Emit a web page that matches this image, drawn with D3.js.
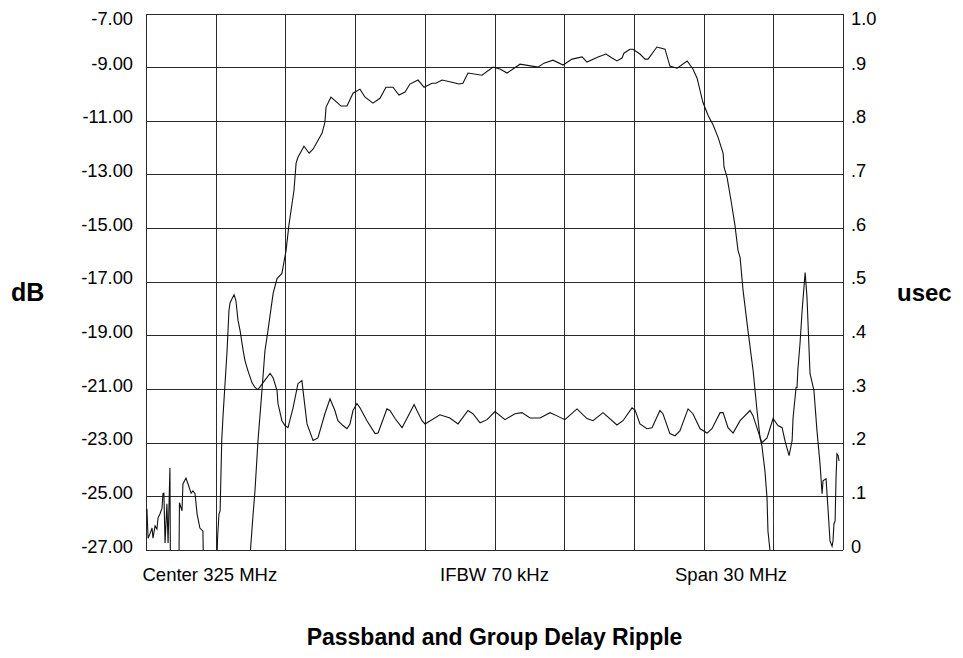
<!DOCTYPE html>
<html>
<head>
<meta charset="utf-8">
<script src="https://cdn.jsdelivr.net/npm/d3@7"></script>
<style>
  body { margin: 0; background: #fff; }
  svg text { font-family: "Liberation Sans", Arial, sans-serif; fill: #000; }
</style>
</head>
<body>
<script>
// Sweep settings (MHz)
var startFreq = 310;
var stopFreq = 340;
var freqDivisions = d3.range(310, 340.001, 3);

// Left axis (dB) and right axis (usec)
var dbTicks = [-27, -25, -23, -21, -19, -17, -15, -13, -11, -9, -7];
var usecTicks = [0, 0.1, 0.2, 0.3, 0.4, 0.5, 0.6, 0.7, 0.8, 0.9, 1.0];
var usecTickLabels = ["0", ".1", ".2", ".3", ".4", ".5", ".6", ".7", ".8", ".9", "1.0"];

// Footer notes and title
var footerLabels = ["Center 325 MHz", "IFBW 70 kHz", "Span 30 MHz"];
var chartTitle = "Passband and Group Delay Ripple";

// Passband magnitude trace: [MHz, dB]
var passband = [
  [314.48,-27.5],[314.50,-26.96],[314.61,-25.66],[314.69,-24.80],[314.82,-22.93],[314.99,-21.06],
  [315.12,-19.57],[315.25,-18.82],[315.47,-17.44],[315.64,-16.88],[315.85,-16.69],[316.03,-15.83],
  [316.15,-14.90],[316.37,-13.59],[316.46,-12.58],[316.54,-12.36],[316.80,-11.95],[317.02,-12.21],
  [317.19,-12.06],[317.58,-11.46],[317.70,-11.05],[317.75,-10.49],[317.96,-10.12],[318.22,-10.31],
  [318.39,-10.45],[318.65,-10.45],[318.91,-9.97],[319.21,-9.82],[319.43,-10.12],[319.77,-10.34],
  [320.07,-10.16],[320.33,-9.75],[320.63,-9.75],[320.89,-10.04],[321.15,-9.93],[321.36,-9.63],
  [321.71,-9.48],[321.97,-9.75],[322.31,-9.60],[322.48,-9.60],[322.74,-9.48],[323.17,-9.56],
  [323.47,-9.63],[323.64,-9.60],[323.86,-9.22],[324.46,-9.30],[324.94,-9.00],[325.24,-9.07],
  [325.54,-9.22],[326.10,-8.89],[326.87,-9.00],[327.13,-8.85],[327.52,-8.74],[327.95,-8.92],
  [328.34,-8.70],[328.77,-8.62],[328.98,-8.81],[329.46,-8.62],[329.80,-8.51],[330.06,-8.66],
  [330.27,-8.77],[330.49,-8.66],[330.57,-8.48],[330.83,-8.33],[330.96,-8.33],[331.26,-8.51],
  [331.48,-8.70],[331.61,-8.70],[331.99,-8.25],[332.34,-8.33],[332.55,-8.96],[332.86,-9.04],
  [333.29,-8.77],[333.54,-9.07],[333.72,-9.41],[333.97,-10.31],[334.19,-10.79],[334.41,-11.16],
  [334.62,-11.61],[334.84,-12.21],[334.88,-12.73],[335.01,-13.11],[335.18,-13.97],[335.35,-14.90],
  [335.48,-15.83],[335.57,-16.09],[335.70,-17.33],[335.91,-18.82],[336.13,-20.31],[336.30,-21.81],
  [336.43,-22.82],[336.51,-23.12],[336.64,-24.05],[336.73,-25.06],[336.77,-26.29],[336.86,-27.04],
  [336.90,-27.6]
];

// Group delay trace: [MHz, usec]
var groupDelay = [
  [310.04,0.077],[310.09,0.022],[310.17,0.030],[310.26,0.041],[310.30,0.022],[310.39,0.045],
  [310.47,0.039],[310.52,0.060],[310.60,0.067],[310.69,0.078],[310.73,0.105],[310.77,0.106],
  [310.82,0.013],[310.90,0.086],[310.95,0.013],[311.03,0.153],[311.05,-0.02],[311.42,-0.02],
  [311.44,0.088],[311.55,0.073],[311.59,0.123],[311.72,0.134],[311.81,0.123],[311.94,0.106],
  [312.02,0.110],[312.11,0.105],[312.20,0.067],[312.32,0.041],[312.45,0.035],[312.47,-0.02],
  [312.75,-0.02],[313.06,-0.01],[313.08,0.022],[313.14,0.067],[313.19,0.073],[313.26,0.204],
  [313.31,0.246],[313.49,0.372],[313.57,0.446],[313.62,0.461],[313.79,0.476],[313.87,0.465],
  [313.96,0.428],[314.05,0.409],[314.18,0.372],[314.26,0.353],[314.39,0.334],[314.56,0.312],
  [314.69,0.303],[314.82,0.299],[315.04,0.312],[315.34,0.329],[315.47,0.321],[315.64,0.297],
  [315.68,0.273],[315.85,0.241],[315.98,0.232],[316.11,0.228],[316.33,0.265],[316.54,0.310],
  [316.71,0.316],[316.76,0.297],[316.93,0.235],[317.19,0.204],[317.40,0.209],[317.70,0.254],
  [317.92,0.282],[318.13,0.260],[318.26,0.241],[318.48,0.232],[318.65,0.226],[318.78,0.235],
  [318.91,0.260],[319.08,0.273],[319.21,0.265],[319.51,0.241],[319.86,0.217],[319.99,0.218],
  [320.37,0.263],[320.50,0.260],[320.72,0.245],[321.02,0.228],[321.23,0.245],[321.54,0.271],
  [321.66,0.260],[321.88,0.241],[322.01,0.235],[322.65,0.252],[323.08,0.246],[323.43,0.235],
  [323.86,0.260],[324.07,0.254],[324.38,0.237],[324.68,0.243],[325.02,0.258],[325.45,0.243],
  [325.88,0.254],[326.18,0.256],[326.53,0.246],[326.96,0.246],[327.39,0.256],[327.69,0.250],
  [328.03,0.243],[328.55,0.263],[328.98,0.245],[329.24,0.241],[329.67,0.256],[330.27,0.233],
  [330.53,0.241],[330.92,0.265],[331.05,0.261],[331.26,0.235],[331.56,0.226],[331.78,0.228],
  [332.12,0.260],[332.25,0.254],[332.55,0.217],[332.77,0.213],[332.98,0.222],[333.33,0.263],
  [333.54,0.254],[333.85,0.226],[334.15,0.218],[334.36,0.226],[334.71,0.256],[334.84,0.256],
  [335.05,0.228],[335.27,0.218],[335.57,0.241],[336.00,0.260],[336.13,0.250],[336.34,0.222],
  [336.51,0.200],[336.73,0.209],[336.99,0.245],[337.20,0.232],[337.38,0.228],[337.50,0.204],
  [337.68,0.176],[337.81,0.204],[337.85,0.246],[337.98,0.303],[338.02,0.303],[338.06,0.338],
  [338.15,0.385],[338.24,0.446],[338.37,0.517],[338.45,0.471],[338.58,0.329],[338.75,0.297],
  [338.88,0.222],[339.01,0.161],[339.10,0.105],[339.14,0.129],[339.27,0.133],[339.36,0.073],
  [339.44,0.017],[339.53,0.007],[339.57,0.017],[339.61,0.049],[339.66,0.054],[339.70,0.134],
  [339.74,0.179],[339.79,0.176],[339.83,0.166]
];

// SVG area and plot box
var svgWidth = 963;
var svgHeight = 658;
var plot = { left: 146, right: 843, top: 13.5, bottom: 550 };
var width = plot.right - plot.left;
var height = plot.bottom - plot.top;

var svg = d3.select("body")
  .append("svg")
  .attr("width", svgWidth)
  .attr("height", svgHeight);

// Scales
var xScale = d3.scaleLinear().domain([startFreq, stopFreq]).range([0, width]);
var yDb = d3.scaleLinear().domain([-27, -7]).range([height, 0]);
var yUs = d3.scaleLinear().domain([0, 1]).range([height, 0]);

var chartGroup = svg.append("g")
  .attr("transform", `translate(${plot.left}, ${plot.top})`);

// Grid lines
chartGroup.append("g")
  .attr("class", "xgrid")
  .attr("transform", `translate(0, ${height})`)
  .call(d3.axisBottom(xScale).tickValues(freqDivisions).tickSize(-height).tickFormat(""))
  .call(g => g.select(".domain").remove());

chartGroup.append("g")
  .attr("class", "ygrid")
  .call(d3.axisLeft(yDb).tickValues(dbTicks).tickSize(-width).tickFormat(""))
  .call(g => g.select(".domain").remove());

chartGroup.selectAll(".xgrid line, .ygrid line")
  .attr("stroke", "#2a2a2a")
  .attr("stroke-width", 1)
  .attr("shape-rendering", "crispEdges");

// Traces, clipped to the plot box
chartGroup.append("clipPath")
  .attr("id", "plotClip")
  .append("rect")
  .attr("width", width)
  .attr("height", height);

var traces = chartGroup.append("g").attr("clip-path", "url(#plotClip)");

var dbLine = d3.line()
  .x(d => xScale(d[0]))
  .y(d => yDb(d[1]));

var usLine = d3.line()
  .x(d => xScale(d[0]))
  .y(d => yUs(d[1]));

traces.append("path")
  .datum(passband)
  .attr("d", dbLine)
  .attr("fill", "none")
  .attr("stroke", "#111")
  .attr("stroke-width", 1.1);

traces.append("path")
  .datum(groupDelay)
  .attr("d", usLine)
  .attr("fill", "none")
  .attr("stroke", "#111")
  .attr("stroke-width", 1.1);

// Left axis labels (dB), plain hyphen for the minus sign
var leftAxis = chartGroup.append("g")
  .attr("transform", "translate(-13, 0)")
  .call(d3.axisLeft(yDb).tickValues(dbTicks).tickSize(0).tickPadding(0)
    .tickFormat(d => d.toFixed(2)));
leftAxis.select(".domain").remove();
leftAxis.selectAll("text")
  .attr("font-size", "18.3px")
  .attr("y", d => d === -7 ? 5.5 : -3.8);

// Right axis labels (usec)
var rightAxis = chartGroup.append("g")
  .attr("transform", `translate(${width + 8}, 0)`)
  .call(d3.axisRight(yUs).tickValues(usecTicks).tickSize(0).tickPadding(0)
    .tickFormat((d, i) => usecTickLabels[i]));
rightAxis.select(".domain").remove();
rightAxis.selectAll("text")
  .attr("font-size", "18.3px")
  .attr("y", d => d === 1 ? 5.5 : -3.8);

// Axis titles
svg.append("text")
  .attr("x", 11)
  .attr("y", 301)
  .attr("font-size", "25px")
  .attr("font-weight", "bold")
  .text("dB");

svg.append("text")
  .attr("x", 897)
  .attr("y", 301)
  .attr("font-size", "24px")
  .attr("font-weight", "bold")
  .text("usec");

// Footer notes
svg.append("text")
  .attr("x", 142.5)
  .attr("y", 581)
  .attr("font-size", "18.5px")
  .text(footerLabels[0]);

svg.append("text")
  .attr("x", plot.left + width / 2)
  .attr("y", 581)
  .attr("text-anchor", "middle")
  .attr("font-size", "18.5px")
  .text(footerLabels[1]);

svg.append("text")
  .attr("x", 675)
  .attr("y", 581)
  .attr("font-size", "18.5px")
  .text(footerLabels[2]);

// Chart title
svg.append("text")
  .attr("x", plot.left + width / 2)
  .attr("y", 645)
  .attr("text-anchor", "middle")
  .attr("font-size", "23px")
  .attr("font-weight", "bold")
  .text(chartTitle);
</script>
</body>
</html>
